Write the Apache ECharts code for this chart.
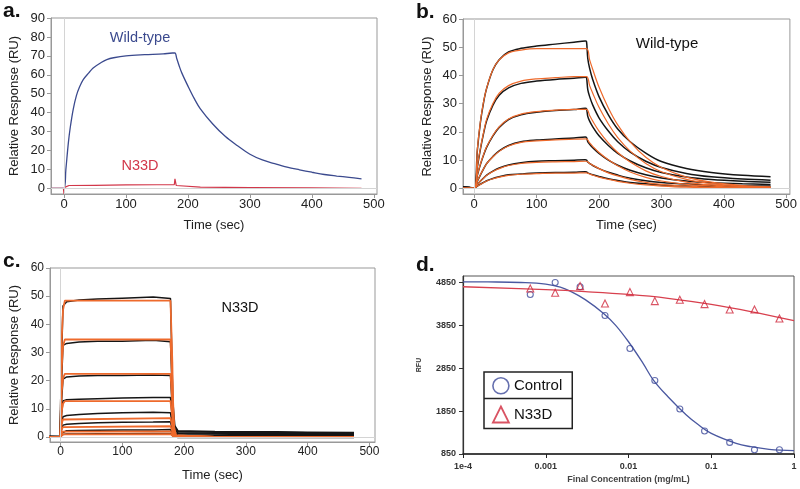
<!DOCTYPE html>
<html><head><meta charset="utf-8">
<script src="https://cdn.jsdelivr.net/npm/echarts@6/dist/echarts.min.js"></script>
<style>html,body{margin:0;padding:0;background:#fff}#c{width:800px;height:489px}</style>
</head><body><div id="c"></div>
<script>
// ---------- Panel a ----------
const timeA_wt = [-20,0,3,7,10,15,20,25,31,40,47,60,69,80,100,130,160,175,179,182,186,190,200,210,220,240,260,280,300,320,340,360,380,400,420,440,460,480];
const wildTypeA = [0,0,10,24,32,42,49,53.5,57.4,61,63.6,66.5,68,69,70,70.6,71,71.5,71.5,68.5,64.5,61,54,47.5,42,34,27.5,22.5,18,15,13,11.2,9.8,8.5,7.3,6.5,5.8,5];
const timeA_n33d = [-20,-1,0,1,3,8,50,100,150,178,179,180,181,183,220,300,400,480];
const n33dA = [0,0,-3,0.5,1.2,1.5,1.6,1.8,1.9,2,5,4.5,1.5,0.8,0.6,0.4,0.2,0];

// ---------- Panel b (Wild-type kinetics) ----------
const timeB_fit = [-18,0,5,10,15,20,30,40,55,75,100,130,160,180,185,190,200,215,230,250,275,300,340,380,430,475];
const fitB = [
  [0,0,13.9,23.8,30.7,35.6,42.1,45.5,48,49,49.5,49.5,49.5,49.5,45.5,42.1,35.9,28.5,22.5,16.5,11,7.4,4,2.2,1,0.5],
  [0,0,7.9,14.3,19.8,24.6,30.1,33.7,36.4,38,38.8,39.2,39.6,39.6,36.4,33.7,28.7,22.8,18,13.2,8.8,5.9,3.2,1.7,0.8,0.4],
  [0,0,4.8,8.7,12,14.8,18.8,21.8,24.6,26.3,27.2,27.7,28,28,25.8,23.8,20.3,16.1,12.7,9.3,6.2,4.2,2.2,1.2,0.6,0.3],
  [0,0,2.6,4.9,7,8.8,11.2,13.1,15,16.3,16.8,17.2,17.4,17.5,16.1,14.9,12.7,10.1,8,5.8,3.9,2.6,1.4,0.8,0.35,0.2],
  [0,0,1.3,2.6,3.6,4.6,6,7,8.1,8.8,9.2,9.4,9.5,9.6,8.8,8.2,7,5.5,4.4,3.2,2.1,1.4,0.8,0.4,0.2,0.1],
  [0,0,0.8,1.4,2,2.6,3.4,4,4.6,5,5.2,5.4,5.4,5.5,5.1,4.7,4,3.2,2.5,1.8,1.2,0.8,0.4,0.25,0.1,0.05]
];
const timeB_obs = [-18,-8,0,5,10,15,20,30,40,55,75,100,130,160,178,180,182,185,190,200,215,230,250,275,300,340,380,430,475];
const obsB = [
  [0.6,0.4,0,13.5,23.5,30.5,35.5,42,45.6,48.3,49.6,50.4,51.1,51.8,52.2,52,46,42.5,38.5,32.5,26,21,16.5,12.5,9.5,7,5.6,4.6,4.1],
  [0.5,0.3,0,7.5,14,19.5,24,29.5,33,35.6,37.2,38,38.6,39,39.4,39.2,35,32.5,29.5,25,20.3,16.5,12.8,9.6,7.4,5.3,4.1,3.3,2.9],
  [0.4,0.3,0,4.6,8.5,11.8,14.6,18.6,21.6,24.4,26.1,27,27.6,27.9,28.4,28.2,25.5,23.8,21.8,18.6,15.2,12.4,9.7,7.3,5.6,4,3.1,2.5,2.2],
  [0.3,0.2,0,2.5,4.8,6.9,8.8,11.3,13.3,15.2,16.5,17.1,17.5,17.8,18.2,18,16.5,15.6,14.4,12.4,10,8.2,6.4,4.8,3.7,2.6,2,1.6,1.4],
  [0.2,0.1,0,1.3,2.6,3.7,4.7,6.1,7.2,8.3,9.1,9.6,9.8,10,10.1,10,9.3,8.8,8.1,7,5.7,4.7,3.6,2.7,2.1,1.5,1.1,0.9,0.8],
  [0.2,0.1,0,0.8,1.5,2.1,2.7,3.5,4.1,4.8,5.1,5.4,5.6,5.7,5.9,5.8,5.5,5.2,4.8,4.2,3.4,2.8,2.1,1.6,1.2,0.8,0.6,0.5,0.4]
];

// ---------- Panel c (N33D kinetics) ----------
const timeC_obs = [-18,-1,0,2,4,10,30,60,100,150,178,180,182,185,190,250,300,350,400,475];
const obsC = [
  [0.2,0.2,0,30,46.5,48,48.6,49,49.3,49.7,49.2,49,12,4,2.2,1.9,1.8,1.8,1.7,1.6],
  [0.2,0.1,0,21,32.5,33.2,33.7,34,34,34.3,33.8,33.6,8.5,3,1.9,1.7,1.6,1.6,1.5,1.5],
  [0.1,0.1,0,13.5,20.5,21.3,21.6,21.8,21.8,22,21.8,21.6,5.5,2.2,1.5,1.3,1.3,1.2,1.2,1.1],
  [0,0,0,8.5,12.8,13.2,13.4,13.6,13.8,14,14,13.8,3.8,1.6,1.1,1,0.9,0.9,0.9,0.8],
  [0,0,0,4.8,7.2,7.6,8,8.3,8.6,8.8,8.6,8.5,2.4,1.1,0.7,0.6,0.6,0.6,0.5,0.5],
  [0,0,0,2.8,4.2,4.5,4.8,5,5.2,5.3,5.4,5.3,1.5,0.6,0.3,0.3,0.3,0.2,0.2,0.2],
  [0,0,0,1.4,2,2.2,2.3,2.4,2.5,2.5,2.6,2.5,0.8,0.3,0,0,0,0,0,0],
  [0,0,0,0.6,0.9,1,1,1.1,1.1,1.2,1.2,1.2,0.3,0,-0.2,-0.2,-0.2,-0.2,-0.2,-0.2]
];
const timeC_fit = [-18,0,1,2,4,7,178,180,181,182,184,187,250,475];
const fitC = [
  [0,0,21.8,34.8,45,48.4,48.4,48.4,26.6,13.6,3.4,0.5,0,0],
  [0,0,15.6,24.9,32.2,34.6,34.6,34.6,19,9.7,2.4,0.35,0,0],
  [0,0,10.1,16.1,20.8,22.4,22.4,22.4,12.3,6.3,1.6,0.2,0,0],
  [0,0,5.7,9.1,11.8,12.7,12.7,12.7,7,3.6,0.9,0.1,0,0],
  [0,0,3,4.8,6.2,6.7,6.7,6.7,3.7,1.9,0.5,0.1,0,0],
  [0,0,1.7,2.7,3.5,3.8,3.8,3.8,2.1,1.1,0.3,0,0,0],
  [0,0,0.9,1.4,1.9,2,2,2,1.1,0.6,0.1,0,0,0],
  [0,0,0.45,0.7,0.9,1,1,1,0.55,0.3,0.1,0,0,0]
];

// ---------- Panel d (dose response) ----------
const concD = [0.00065,0.0013,0.0026,0.0052,0.0104,0.0208,0.0417,0.083,0.167,0.333,0.667];
const controlD = [4570,4850,4750,4080,3310,2565,1900,1385,1120,950,950];
const n33dD = [4710,4610,4765,4360,4625,4415,4445,4345,4220,4220,4010];
const controlFitConc = [1e-4,2e-4,5e-4,0.001,0.0015,0.002,0.003,0.005,0.007,0.01,0.015,0.02,0.03,0.05,0.07,0.1,0.2,0.3,0.5,1];
const controlFit = [4865,4862,4848,4812,4740,4640,4450,4128,3850,3467,2963,2574,2186,1759,1530,1331,1098,1020,959,928];
const n33dFitConc = [1e-4,0.001,0.003,0.01,0.03,0.1,0.3,1];
const n33dFit = [4749,4680,4635,4570,4480,4337,4170,3957];

const tickT = [0,100,200,300,400,500];
const ticksA_y = [0,10,20,30,40,50,60,70,80,90];
const ticksBC_y = [0,10,20,30,40,50,60];
const ticksD_y = [850,1850,2850,3850,4850];
const tickLabelsD_x = {'-4':'1e-4','-3':'0.001','-2':'0.01','-1':'0.1','0':'1'};

const FONT = 'Liberation Sans, Arial, sans-serif';
const zip = (xs, ys) => xs.map((x, i) => [x, ys[i]]);

const chart = echarts.init(document.getElementById('c'));

function kinX(gi, min, max, fs) {
  return {
    type: 'value', gridIndex: gi, min, max, position: 'bottom',
    axisLine: { show: true, onZero: false, lineStyle: { color: '#999', width: 1 } },
    axisTick: { show: true, customValues: tickT, length: 4, lineStyle: { color: '#999' } },
    axisLabel: { customValues: tickT, margin: 4, fontSize: fs, color: '#222', fontFamily: FONT, formatter: v => String(v) },
    splitLine: { show: false },
    name: 'Time (sec)', nameLocation: 'middle', nameGap: 25,
    nameTextStyle: { fontSize: 13, color: '#222', fontFamily: FONT }
  };
}
function kinY(gi, min, max, ticks, gap, fs) {
  return {
    type: 'value', gridIndex: gi, min, max,
    axisLine: { show: true, onZero: false, lineStyle: { color: '#999', width: 1 } },
    axisTick: { show: true, customValues: ticks, length: 4, lineStyle: { color: '#999' } },
    axisLabel: { customValues: ticks, margin: 6, fontSize: fs, color: '#222', fontFamily: FONT, formatter: v => String(v) },
    splitLine: { show: false },
    name: 'Relative Response (RU)', nameLocation: 'middle', nameGap: gap,
    nameTextStyle: { fontSize: 13, color: '#222', fontFamily: FONT }
  };
}
const zeroLines = {
  silent: true, symbol: ['none', 'none'], label: { show: false },
  lineStyle: { color: '#d4d4d4', width: 1, type: 'solid' },
  data: [{ xAxis: 0 }, { yAxis: 0 }]
};

const series = [];
// Panel a
series.push({ name: 'a-wt', type: 'line', xAxisIndex: 0, yAxisIndex: 0, data: zip(timeA_wt, wildTypeA),
  showSymbol: false, smooth: 0.35, lineStyle: { color: '#3b4a8e', width: 1.3 }, markLine: zeroLines, z: 3 });
series.push({ name: 'a-n33d', type: 'line', xAxisIndex: 0, yAxisIndex: 0, data: zip(timeA_n33d, n33dA),
  showSymbol: false, lineStyle: { color: '#d2374a', width: 1.2 }, z: 4 });
// Panel b
obsB.forEach((v, i) => series.push({ name: 'b-obs' + i, type: 'line', xAxisIndex: 1, yAxisIndex: 1,
  data: zip(timeB_obs, v), showSymbol: false, smooth: 0.35,
  lineStyle: { color: '#151515', width: 1.5 }, markLine: i === 0 ? zeroLines : undefined, z: 3 }));
fitB.forEach((v, i) => series.push({ name: 'b-fit' + i, type: 'line', xAxisIndex: 1, yAxisIndex: 1,
  data: zip(timeB_fit, v), showSymbol: false, smooth: 0.35,
  lineStyle: { color: '#ee6a2c', width: 1.2 }, z: 4 }));
// Panel c
obsC.forEach((v, i) => series.push({ name: 'c-obs' + i, type: 'line', xAxisIndex: 2, yAxisIndex: 2,
  data: zip(timeC_obs, v), showSymbol: false,
  lineStyle: { color: '#151515', width: 1.5 }, markLine: i === 0 ? zeroLines : undefined, z: 3 }));
fitC.forEach((v, i) => series.push({ name: 'c-fit' + i, type: 'line', xAxisIndex: 2, yAxisIndex: 2,
  data: zip(timeC_fit, v), showSymbol: false,
  lineStyle: { color: '#ee6a2c', width: 1.8 }, z: 4 }));
// Panel d
series.push({ name: 'Control fit', type: 'line', xAxisIndex: 3, yAxisIndex: 3, data: zip(controlFitConc, controlFit),
  showSymbol: false, smooth: 0.4, lineStyle: { color: '#4a58a0', width: 1.3 }, z: 3 });
series.push({ name: 'N33D fit', type: 'line', xAxisIndex: 3, yAxisIndex: 3, data: zip(n33dFitConc, n33dFit),
  showSymbol: false, smooth: 0.4, lineStyle: { color: '#d8404e', width: 1.3 }, z: 3 });
series.push({ name: 'Control', type: 'scatter', xAxisIndex: 3, yAxisIndex: 3, data: zip(concD, controlD),
  symbol: 'circle', symbolSize: 6, itemStyle: { color: 'rgba(255,255,255,0)', borderColor: '#3f4b9a', borderWidth: 1.1 }, z: 5 });
series.push({ name: 'N33D', type: 'scatter', xAxisIndex: 3, yAxisIndex: 3, data: zip(concD, n33dD),
  symbol: 'triangle', symbolSize: 7, itemStyle: { color: 'rgba(255,255,255,0)', borderColor: '#d0283c', borderWidth: 1.1 }, z: 5 });

const letter = (t, x, y) => ({ type: 'text', x, y, style: { text: t, font: 'bold 21px ' + FONT, fill: '#111',
  align: 'left', verticalAlign: 'middle', textAlign: 'left', textVerticalAlign: 'middle' } });
const note = (t, x, y, color, size) => ({ type: 'text', x, y, style: { text: t, font: size + 'px ' + FONT, fill: color,
  align: 'center', verticalAlign: 'middle', textAlign: 'center', textVerticalAlign: 'middle' } });

const option = {
  animation: false,
  backgroundColor: '#fff',
  textStyle: { fontFamily: FONT },
  grid: [
    { left: 51, top: 18, width: 326, height: 176, show: true, borderColor: '#999', borderWidth: 1, backgroundColor: 'transparent' },
    { left: 463, top: 19, width: 327, height: 175, show: true, borderColor: '#999', borderWidth: 1, backgroundColor: 'transparent' },
    { left: 50, top: 268, width: 325, height: 174, show: true, borderColor: '#999', borderWidth: 1, backgroundColor: 'transparent' },
    { left: 463, top: 276, width: 331, height: 178, show: true, borderColor: '#555', borderWidth: 1, backgroundColor: 'transparent' }
  ],
  xAxis: [
    kinX(0, -21, 505, 13),
    kinX(1, -18, 506, 13),
    Object.assign(kinX(2, -17, 509, 12), { nameGap: 27 }),
    {
      type: 'log', logBase: 10, gridIndex: 3, min: 1e-4, max: 1, position: 'bottom',
      axisLine: { show: true, onZero: false, lineStyle: { color: '#222', width: 1.5 } },
      axisTick: { show: true, length: 4, lineStyle: { color: '#222' } },
      minorTick: { show: false },
      axisLabel: { margin: 8, fontSize: 9, fontWeight: 'bold', color: '#333', fontFamily: FONT,
        formatter: v => tickLabelsD_x[String(Math.round(Math.log10(v)))] || '' },
      splitLine: { show: false },
      name: 'Final Concentration (mg/mL)', nameLocation: 'middle', nameGap: 21,
      nameTextStyle: { fontSize: 9, fontWeight: 'bold', color: '#444', fontFamily: FONT }
    }
  ],
  yAxis: [
    kinY(0, -3, 90, ticksA_y, 30, 13),
    kinY(1, -2, 60, ticksBC_y, 29, 13),
    kinY(2, -1.8, 60, ticksBC_y, 29, 12),
    {
      type: 'value', gridIndex: 3, min: 850, max: 5000,
      axisLine: { show: true, onZero: false, lineStyle: { color: '#333', width: 1.2 } },
      axisTick: { show: true, customValues: ticksD_y, length: 4, lineStyle: { color: '#333' } },
      axisLabel: { customValues: ticksD_y, margin: 7, fontSize: 9, fontWeight: 'bold', color: '#333', fontFamily: FONT,
        formatter: v => String(v) },
      splitLine: { show: false },
      name: 'RFU', nameLocation: 'middle', nameGap: 40,
      nameTextStyle: { fontSize: 7, fontWeight: 'bold', color: '#333', fontFamily: FONT }
    }
  ],
  legend: {
    orient: 'vertical', left: 484, top: 372,
    padding: [5, 10, 5, 8], itemGap: 11, itemWidth: 16, itemHeight: 16,
    borderColor: '#222', borderWidth: 1.5, backgroundColor: '#fff',
    textStyle: { fontSize: 15, color: '#111', fontFamily: FONT },
    data: [
      { name: 'Control', icon: 'circle', itemStyle: { color: 'rgba(255,255,255,0)', borderColor: '#3f4b9a', borderWidth: 1.6 } },
      { name: 'N33D', icon: 'triangle', itemStyle: { color: 'rgba(255,255,255,0)', borderColor: '#d0283c', borderWidth: 1.8 } }
    ]
  },
  graphic: [
    letter('a.', 3, 11),
    letter('b.', 416, 12),
    letter('c.', 3, 261),
    letter('d.', 416, 265),
    note('Wild-type', 140, 38, '#3b4a8e', 14.5),
    note('N33D', 140, 166, '#d2374a', 14.5),
    note('Wild-type', 667, 44, '#111', 15),
    note('N33D', 240, 308, '#111', 14.5),
    { type: 'line', z: 100, shape: { x1: 484, y1: 398.5, x2: 573, y2: 398.5 }, style: { stroke: '#222', lineWidth: 1.5 } }
  ],
  series
};
chart.setOption(option);
</script>
</body></html>
